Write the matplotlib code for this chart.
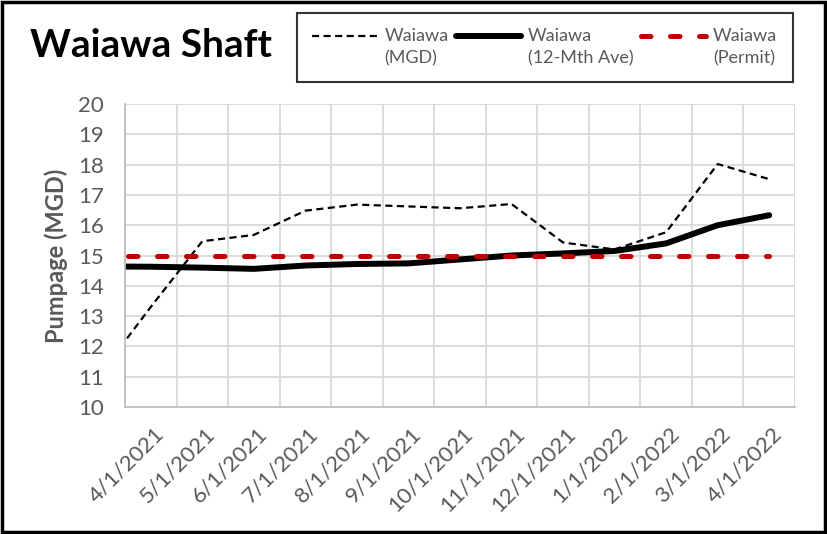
import numpy as np
import matplotlib.pyplot as plt
from matplotlib.patches import Rectangle
from matplotlib.legend_handler import HandlerLine2D
from matplotlib.transforms import ScaledTranslation

# -------------------------------------------------
# data (first row is the month before the axis starts; it is clipped)
# -------------------------------------------------
months = ["3/1/2021", "4/1/2021", "5/1/2021", "6/1/2021", "7/1/2021",
          "8/1/2021", "9/1/2021", "10/1/2021", "11/1/2021", "12/1/2021",
          "1/1/2022", "2/1/2022", "3/1/2022", "4/1/2022"]
mgd = [11.05, 13.3, 15.47, 15.68, 16.48, 16.68, 16.62, 16.56, 16.7,
       15.43, 15.2, 15.77, 18.02, 17.52]
ave_12mth = [14.64, 14.63, 14.6, 14.56, 14.67, 14.72, 14.74, 14.87, 15.0,
             15.07, 15.15, 15.4, 16.0, 16.33]
permit = [15.0] * len(months)

labels = ["Waiawa\n(MGD)", "Waiawa\n(12-Mth Ave)", "Waiawa\n(Permit)"]

LEG_LINESPACING = 1.45


class FirstLineHandler(HandlerLine2D):
    """Put the legend line level with the first text line."""
    def create_artists(self, legend, orig_handle, xdescent, ydescent,
                       width, height, fontsize, trans):
        return super().create_artists(legend, orig_handle, xdescent,
                                      ydescent - 1.3 * fontsize,
                                      width, height, fontsize, trans)


plt.rcParams["font.family"] = ["Lato", "DejaVu Sans"]
gray = "#595959"

fig = plt.figure(figsize=(8.27, 5.34), dpi=100)
ax = fig.add_axes([0.1511, 0.2378, 0.8102, 0.5674])

x = np.arange(len(months))
l1, = ax.plot(x, mgd, color="black", lw=1.6, ls=(0, (3.2, 2.0)))
l2, = ax.plot(x, ave_12mth, color="black", lw=4.3, solid_capstyle="round")
l3, = ax.plot(x, permit, color="#C00000", lw=3.6, ls=(0, (1.9, 3.9)),
              dash_capstyle="round")

ax.set_xlim(0.5, len(months) - 0.5)
ax.set_ylim(10, 20)
ax.set_yticks(np.arange(10, 21, 1))
ax.set_xticks(x[1:])
ax.set_xticklabels(months[1:], rotation=45, ha="right",
                   rotation_mode="anchor")
ax.set_xticks(np.arange(0.5, len(months), 1), minor=True)
ax.tick_params(axis="both", which="both", length=0, labelsize=16,
               labelcolor=gray)
ax.tick_params(axis="x", pad=10)
ax.tick_params(axis="y", pad=15)
shift = ScaledTranslation(2 / 72, -2 / 72, fig.dpi_scale_trans)
for lab in ax.get_xticklabels():
    lab.set_transform(lab.get_transform() + shift)

ax.grid(which="minor", axis="x", color="#D9D9D9", lw=1.3)
ax.grid(which="major", axis="y", color="#D9D9D9", lw=1.3)
ax.set_axisbelow(True)
for s in ["top", "right"]:
    ax.spines[s].set_visible(False)
for s in ["left", "bottom"]:
    ax.spines[s].set_color("#BFBFBF")
    ax.spines[s].set_linewidth(1.3)

ax.set_ylabel("Pumpage (MGD)", fontsize=17, fontweight="bold", color=gray)
ax.yaxis.set_label_coords(-0.085, 0.5)

fig.text(0.036, 0.893, "Waiawa Shaft", fontsize=28, fontweight="bold",
         va="baseline", ha="left")

leg = fig.legend([l1, l2, l3], labels, loc="upper left",
                 bbox_to_anchor=(297 / 827, 1 - 13 / 534),
                 ncol=3, fontsize=13, frameon=True, fancybox=False,
                 edgecolor="black", handlelength=3.6, handletextpad=0.4,
                 borderaxespad=0, borderpad=0.85, columnspacing=0.4,
                 labelcolor=gray,
                 handler_map={l: FirstLineHandler() for l in (l1, l2, l3)})
for t in leg.get_texts():
    t.set_linespacing(LEG_LINESPACING)
leg.get_frame().set_linewidth(1.5)

fig.patches.append(Rectangle((0.002, 0.003), 0.995, 0.993,
                             transform=fig.transFigure, fill=False,
                             edgecolor="black", lw=2.5))

fig.savefig("out.png", dpi=100)
